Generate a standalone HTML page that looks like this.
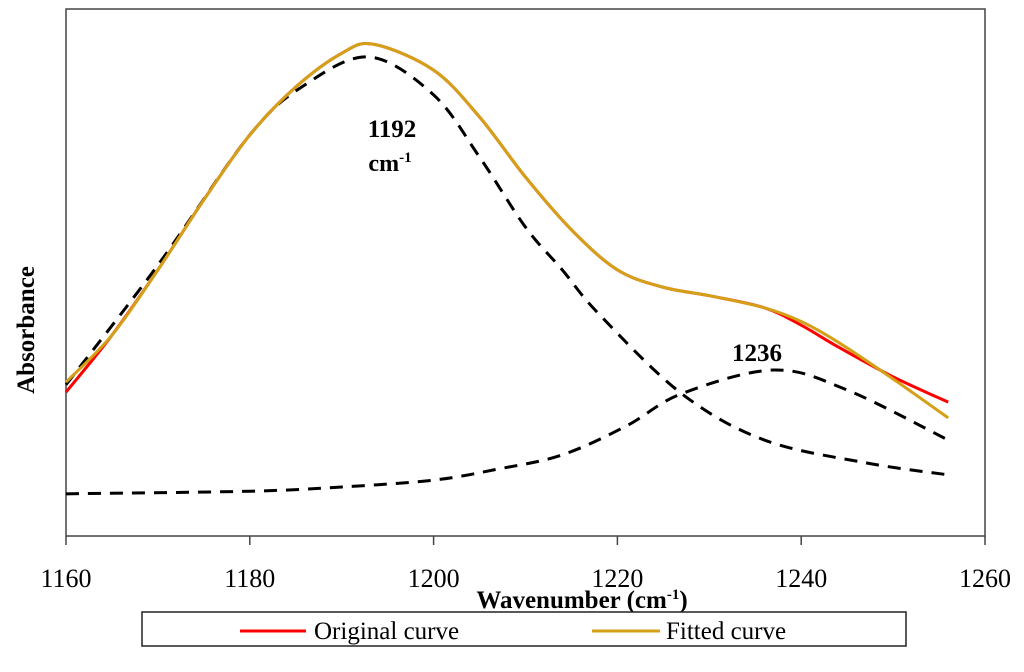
<!DOCTYPE html>
<html><head><meta charset="utf-8"><style>
html,body{margin:0;padding:0;background:#fff;}
svg{display:block;font-family:"Liberation Serif",serif;}
</style></head><body>
<svg id="chart" width="1024" height="672">
<rect x="66" y="9" width="919" height="527" fill="none" stroke="#444" stroke-width="1.5"/>
<g id="ticks"></g>
<g id="series"></g>
<text x="392" y="137" font-size="25" font-weight="bold" text-anchor="middle">1192</text>
<text x="390" y="171" font-size="24" font-weight="bold" text-anchor="middle">cm<tspan dy="-9" font-size="15">-1</tspan></text>
<text x="757" y="361" font-size="25" font-weight="bold" text-anchor="middle">1236</text>
<text x="582" y="608" font-size="25" font-weight="bold" text-anchor="middle">Wavenumber  (cm<tspan dy="-9" font-size="15">-1</tspan><tspan dy="9">)</tspan></text>
<text transform="translate(34,330) rotate(-90)" font-size="25" font-weight="bold" text-anchor="middle">Absorbance</text>
<g>
<rect x="142" y="612" width="764" height="34" fill="#fff" stroke="#222" stroke-width="1.5"/>
<line x1="240" y1="631" x2="306" y2="631" stroke="#ff0000" stroke-width="3"/>
<text x="314" y="639" font-size="25">Original curve</text>
<line x1="592" y1="631" x2="660" y2="631" stroke="#d4a017" stroke-width="3"/>
<text x="666" y="639" font-size="25">Fitted curve</text>
</g>
</svg>
<script>
const xTicks = [1160,1180,1200,1220,1240,1260];
const origX = [1160,1165,1170,1175,1180,1185,1190,1193.5,1200,1205,1210,1215,1220,1225,1230,1236,1240,1244,1250,1256];
const origY = [27.3,38.1,50.5,63.8,76.1,85.2,91.6,93.3,88.4,79.5,68.1,58.1,50.5,47.2,45.6,43.3,40.0,35.9,30.2,25.4];
const fitX = [1160,1165,1170,1175,1180,1185,1190,1193.5,1200,1205,1210,1215,1220,1225,1230,1236,1240,1244,1250,1256];
const fitY = [29.2,38.1,50.5,63.8,76.1,85.2,91.6,93.3,88.4,79.5,68.1,58.1,50.5,47.2,45.6,43.3,40.7,36.8,29.8,22.4];
const peak1X = [1160,1170,1180,1186,1193,1200,1205,1210,1214,1218,1227,1236,1247,1256];
const peak1Y = [28.7,51.4,76.1,85.6,90.9,83.7,71.9,58.6,50.5,42.1,27.0,18.2,13.9,11.6];
const peak2X = [1160,1180,1190,1200,1207,1214,1221,1227,1237,1245,1256];
const peak2Y = [8.0,8.5,9.3,10.6,12.7,15.4,20.9,27.0,31.5,27.7,18.2];

const xs = v => 66 + (v-1160)*(985-66)/100;
const ys = v => 536 - v*5.27;
const NS = "http://www.w3.org/2000/svg";

const tg = document.getElementById('ticks');
xTicks.forEach(t => {
  const l = document.createElementNS(NS,'line');
  l.setAttribute('x1',xs(t)); l.setAttribute('x2',xs(t));
  l.setAttribute('y1',536); l.setAttribute('y2',545);
  l.setAttribute('stroke','#444'); l.setAttribute('stroke-width','1.5');
  
  
  tg.appendChild(l);
  const tx = document.createElementNS(NS,'text');
  tx.setAttribute('x',xs(t)); tx.setAttribute('y',587);
  tx.setAttribute('font-size','26'); tx.setAttribute('text-anchor','middle');
  tx.textContent = t;
  
  
  tg.appendChild(tx);
});

function path(X,Y){
  const p = X.map((x,i)=>[xs(x),ys(Y[i])]);
  let d = `M${p[0][0]},${p[0][1]}`;
  for(let i=0;i<p.length-1;i++){
    const p0=p[Math.max(i-1,0)],p1=p[i],p2=p[i+1],p3=p[Math.min(i+2,p.length-1)];
    const c1=[p1[0]+(p2[0]-p0[0])/6,p1[1]+(p2[1]-p0[1])/6];
    const c2=[p2[0]-(p3[0]-p1[0])/6,p2[1]-(p3[1]-p1[1])/6];
    d+=` C${c1[0]},${c1[1]} ${c2[0]},${c2[1]} ${p2[0]},${p2[1]}`;
  }
  return d;
}
const sg = document.getElementById('series');
function add(X,Y,color,w,dash,name){
  const e = document.createElementNS(NS,'path');
  e.setAttribute('d',path(X,Y)); e.setAttribute('fill','none');
  e.setAttribute('stroke',color); e.setAttribute('stroke-width',w);
  if(dash) e.setAttribute('stroke-dasharray',dash);
  
  
  sg.appendChild(e);
}
add(peak1X,peak1Y,'#000',3,'13,9','fitted-peak-1192');
add(peak2X,peak2Y,'#000',3,'13,9','fitted-peak-1236');
add(origX,origY,'#ff0000',3,null,'original-curve');
add(fitX,fitY,'#d4a017',3,null,'fitted-curve');
</script>
</body></html>
